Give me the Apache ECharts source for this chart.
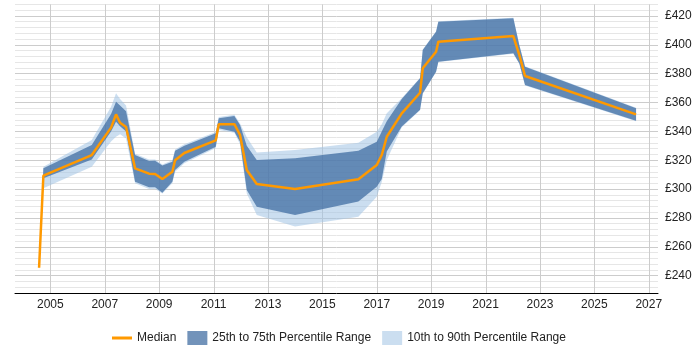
<!DOCTYPE html>
<html>
<head>
<meta charset="utf-8">
<script src="https://cdn.jsdelivr.net/npm/echarts@6/dist/echarts.min.js"></script>
<style>html,body{margin:0;padding:0;background:#fff;}#c{width:700px;height:350px;}</style>
</head>
<body>
<div id="c"></div>
<script>
const years  = [2004.585, 2004.743, 2006.522, 2007.232, 2007.415, 2007.563, 2007.783, 2008.114, 2008.629, 2008.850, 2009.118, 2009.485, 2009.585, 2009.926, 2011.081, 2011.191, 2011.765, 2011.974, 2012.221, 2012.588, 2013.996, 2016.324, 2017.000, 2017.184, 2017.368, 2017.919, 2018.592, 2018.691, 2019.180, 2019.265, 2022.022, 2022.243, 2022.452, 2026.533];
const median = [245.5, 309.3, 323.6, 342.6, 351.8, 346.0, 343.0, 314.4, 310.7, 310.5, 307.0, 312.0, 320.0, 325.0, 333.8, 345.0, 345.0, 337.5, 313.2, 303.5, 300.1, 306.8, 316.7, 323.6, 336.3, 352.5, 366.8, 383.7, 395.2, 402.2, 406.1, 392.9, 378.4, 351.8];
const p25    = [245.0, 307.5, 320.5, 340.0, 346.7, 343.5, 340.0, 305.1, 301.3, 301.3, 297.5, 305.1, 313.2, 319.0, 329.4, 342.1, 339.8, 332.9, 299.4, 287.8, 282.1, 291.4, 301.7, 307.0, 326.0, 343.3, 355.0, 366.4, 381.4, 388.3, 394.1, 387.0, 372.1, 347.4];
const p75    = [246.0, 314.4, 330.6, 352.0, 360.6, 358.0, 354.0, 323.6, 319.5, 319.7, 316.3, 319.0, 326.6, 330.1, 338.7, 349.1, 350.7, 344.4, 330.0, 320.2, 321.3, 326.6, 332.9, 340.0, 347.0, 362.5, 376.8, 396.4, 409.1, 416.0, 418.4, 399.5, 384.8, 356.0];
const p10    = [243.5, 300.6, 315.5, 333.0, 336.3, 338.0, 335.0, 304.0, 300.0, 300.0, 297.0, 304.0, 312.0, 318.0, 328.5, 341.0, 339.0, 331.0, 297.0, 282.1, 274.0, 280.9, 294.7, 305.0, 320.0, 342.8, 354.7, 366.1, 381.1, 388.0, 393.8, 386.7, 371.8, 347.1];
const p90    = [247.0, 315.5, 334.0, 357.0, 366.4, 362.5, 358.0, 324.5, 320.5, 320.5, 317.0, 320.0, 327.5, 331.0, 339.5, 350.0, 351.5, 345.5, 336.0, 325.3, 327.1, 332.2, 339.8, 345.0, 352.5, 363.0, 377.1, 396.7, 409.4, 416.3, 418.7, 399.8, 385.1, 356.3];
const xTicks = [2005, 2007, 2009, 2011, 2013, 2015, 2017, 2019, 2021, 2023, 2025, 2027];

const DARK = 'rgba(60,105,160,0.72)';
const LIGHT = 'rgba(160,195,228,0.55)';
const ORANGE = '#ff9900';
const FONT = 'Liberation Sans';
const X_MIN = 2003.7, X_MAX = 2027.34;

function bandSeries(name, lo, hi, color, z) {
  return {
    name: name, type: 'custom', z: z, silent: true,
    data: years.map((y, i) => [y, lo[i], hi[i]]),
    encode: {x: 0, y: [1, 2]},
    itemStyle: {color: color},
    renderItem: function (params, api) {
      if (params.dataIndexInside !== 0) return null;
      const n = params.dataInsideLength;
      const upper = [], lower = [];
      for (let i = 0; i < n; i++) {
        const x = api.value(0, i);
        upper.push(api.coord([x, api.value(2, i)]));
        lower.push(api.coord([x, api.value(1, i)]));
      }
      return {
        type: 'polygon',
        shape: {points: upper.concat(lower.reverse())},
        style: {fill: color, stroke: null}
      };
    }
  };
}

const chart = echarts.init(document.getElementById('c'), null, {renderer: 'canvas'});
chart.setOption({
  animation: false,
  grid: {left: 15, right: 42, top: 4.4, bottom: 57, containLabel: false},
  legend: {
    left: 107, top: 326, itemWidth: 20, itemHeight: 14, itemGap: 11,
    textStyle: {fontFamily: FONT, fontSize: 12, color: '#222'},
    data: [
      {name: 'Median', icon: 'path://M0,0 L0,0 M0,14 L0,14 M0,5.5 L20,5.5 L20,8.5 L0,8.5 Z'},
      {name: '25th to 75th Percentile Range', icon: 'rect'},
      {name: '10th to 90th Percentile Range', icon: 'rect'}
    ]
  },
  xAxis: {
    type: 'value', min: X_MIN, max: X_MAX,
    axisLine: {show: true, lineStyle: {color: '#000', width: 1}},
    axisTick: {show: false, customValues: xTicks},
    axisLabel: {customValues: xTicks, fontFamily: FONT, fontSize: 12, color: '#222', margin: 6, formatter: v => String(v)},
    splitLine: {show: false}
  },
  yAxis: {
    type: 'value', position: 'right', min: 228, max: 428, interval: 4,
    axisLine: {show: false}, axisTick: {show: false},
    axisLabel: {fontFamily: FONT, fontSize: 12, color: '#222', margin: 7,
      formatter: v => (v % 20 === 0 ? '£' + v : '')},
    splitLine: {show: true, lineStyle: {width: 1, color: ['#e6e6e6', '#e6e6e6', '#e6e6e6', '#cccccc', '#e6e6e6']}}
  },
  series: [
    {name: 'xgrid', type: 'custom', z: 1, silent: true, clip: false,
     data: xTicks.map(v => [v, 330]),
     encode: {x: 0, y: 1},
     renderItem: function (params, api) {
       const cs = params.coordSys;
       const x = Math.round(api.coord([api.value(0), 330])[0]) + 0.5;
       return {
         type: 'line',
         shape: {x1: x, y1: cs.y, x2: x, y2: cs.y + cs.height},
         style: {stroke: '#cccccc', lineWidth: 1}
       };
     }},
    bandSeries('10th to 90th Percentile Range', p10, p90, LIGHT, 2),
    bandSeries('25th to 75th Percentile Range', p25, p75, DARK, 3),
    {name: 'Median', type: 'line', data: years.map((y, i) => [y, median[i]]), symbol: 'none', z: 4,
     lineStyle: {width: 2.5, color: ORANGE}, itemStyle: {color: ORANGE}}
  ]
});
</script>
</body>
</html>
